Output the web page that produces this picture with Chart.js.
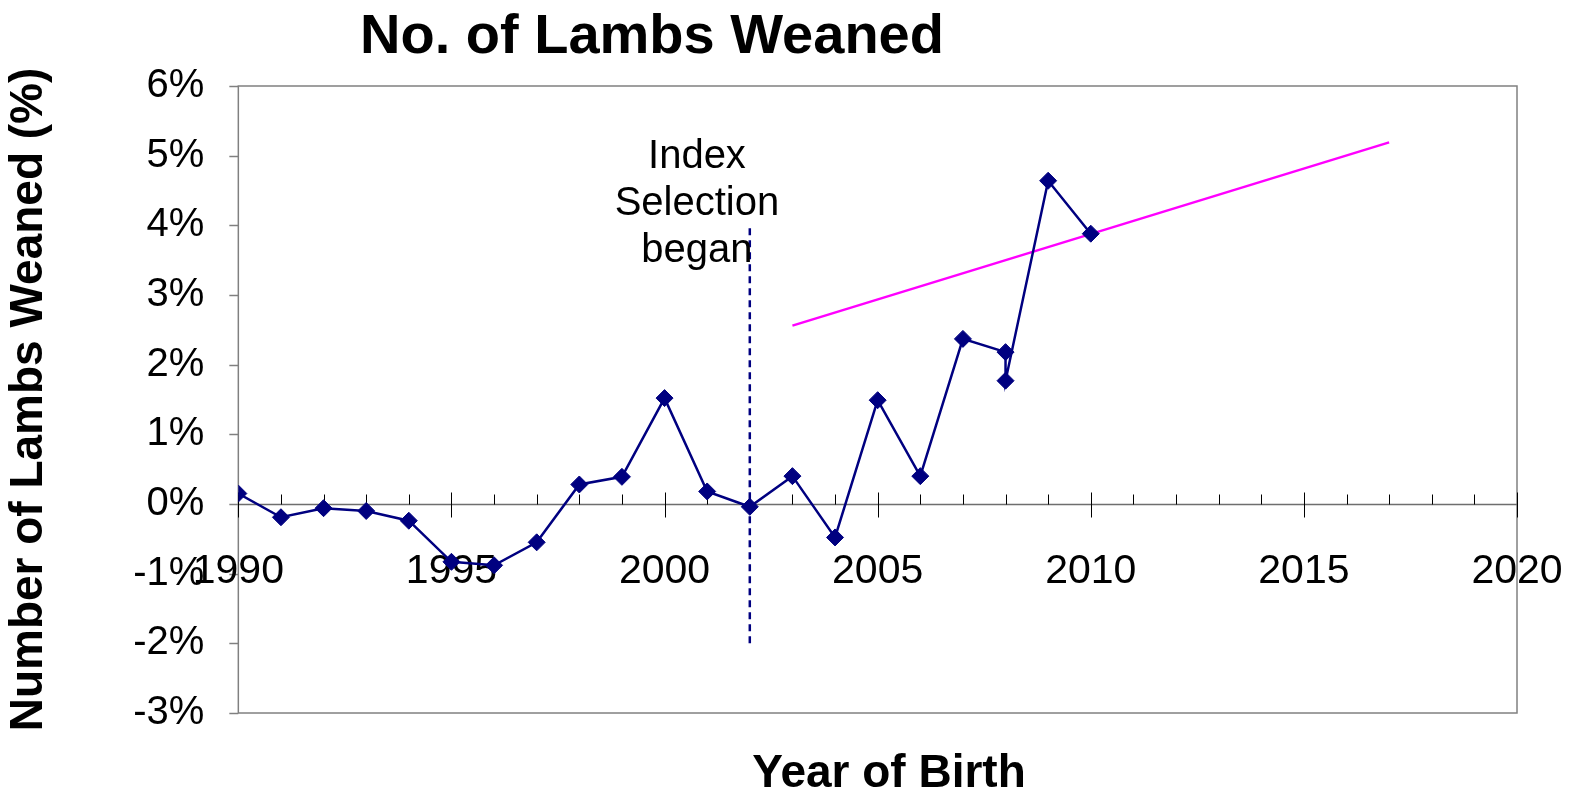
<!DOCTYPE html>
<html>
<head>
<meta charset="utf-8">
<title>No. of Lambs Weaned</title>
<script src="https://cdn.jsdelivr.net/npm/chart.js@4.4.1/dist/chart.umd.min.js"></script>
<style>
    html, body { margin: 0; padding: 0; background: #fff; }
    #wrap { width: 1571px; height: 794px; position: relative; }
</style>
</head>
<body>
<div id="wrap"><canvas id="lambChart"></canvas></div>
<script>
// data
const years = [1990, 1991, 1992, 1993, 1994, 1995, 1996, 1997, 1998, 1999, 2000, 2001, 2002,
               2003, 2004, 2005, 2006, 2007, 2008, 2008, 2009, 2010];
const weaned = [0.15, -0.19, -0.06, -0.10, -0.24, -0.83, -0.88, -0.55, 0.28, 0.39, 1.52, 0.18, -0.04,
                0.40, -0.48, 1.49, 0.40, 2.37, 2.18, 1.77, 4.64, 3.88];

// trend line (pink)
const trendYears = [2003, 2017];
const trendValues = [2.56, 5.19];

// "index selection began" marker
const markerYears = [2002, 2002];
const markerValues = [-2, 4];

// tick labels
const xTickLabels = [1990, 1995, 2000, 2005, 2010, 2015, 2020];
const yMin = -3, yMax = 6;
const xMin = 1990, xMax = 2020;

const FONT = "'Liberation Sans', Arial, sans-serif";
const AXIS_GREY = '#808080';
const NAVY = '#000080';

function toPoints(xs, ys) {
    return xs.map((x, i) => ({ x: x, y: ys[i] }));
}

// frame, zero axis line, tick marks and x labels
const framePlugin = {
    id: 'frame',
    beforeDatasetsDraw(chart) {
        const { ctx, chartArea: a, scales: { x, y } } = chart;
        ctx.save();
        ctx.strokeStyle = AXIS_GREY;
        ctx.lineWidth = 1.5;
        ctx.strokeRect(a.left, a.top, a.right - a.left, a.bottom - a.top);

        // y tick marks, outside left
        for (let v = yMin; v <= yMax; v++) {
            const py = Math.round(y.getPixelForValue(v)) + 0.5;
            ctx.beginPath();
            ctx.moveTo(a.left - 9, py);
            ctx.lineTo(a.left, py);
            ctx.stroke();
        }

        // x axis at 0
        const y0 = Math.round(y.getPixelForValue(0)) + 0.5;
        ctx.strokeStyle = '#6e6e6e';
        ctx.beginPath();
        ctx.moveTo(a.left, y0);
        ctx.lineTo(a.right, y0);
        ctx.stroke();
        ctx.strokeStyle = '#000';
        ctx.lineWidth = 1;
        for (let yr = xMin; yr <= xMax; yr++) {
            const px = Math.round(x.getPixelForValue(yr)) + 0.5;
            ctx.beginPath();
            if (yr % 5 === 0) {
                ctx.moveTo(px, y0 - 12);
                ctx.lineTo(px, y0 + 13);
            } else {
                ctx.moveTo(px, y0 - 10);
                ctx.lineTo(px, y0);
            }
            ctx.stroke();
        }

        // x labels below the zero line
        ctx.fillStyle = '#000';
        ctx.font = '41px ' + FONT;
        ctx.textAlign = 'center';
        ctx.textBaseline = 'alphabetic';
        xTickLabels.forEach(v => ctx.fillText(String(v), x.getPixelForValue(v), y0 + 78));
        ctx.restore();
    },
    afterDraw(chart) {
        const { ctx, scales: { x } } = chart;
        ctx.save();
        ctx.fillStyle = '#000';
        ctx.textAlign = 'center';
        ctx.textBaseline = 'alphabetic';

        ctx.font = 'bold 56px ' + FONT;
        ctx.fillText('No. of Lambs Weaned', 652, 53);

        ctx.font = 'bold 46px ' + FONT;
        ctx.fillText('Year of Birth', 889, 787);

        // annotation
        ctx.font = '40px ' + FONT;
        const ax = x.getPixelForValue(2000.76);
        const lines = ['Index', 'Selection', 'began'];
        lines.forEach((t, i) => ctx.fillText(t, ax, 168 + i * 47));
        ctx.restore();
    }
};

new Chart(document.getElementById('lambChart'), {
    type: 'line',
    data: {
        datasets: [{
            label: 'Lambs weaned',
            data: toPoints(years, weaned),
            borderColor: NAVY,
            backgroundColor: NAVY,
            borderWidth: 2.5,
            pointStyle: 'rectRot',
            pointRadius: 8.5,
            pointHoverRadius: 8.5,
            pointBorderWidth: 1,
            tension: 0,
            order: 1
        }, {
            label: 'Trend',
            data: toPoints(trendYears, trendValues),
            borderColor: '#ff00ff',
            borderWidth: 2.5,
            pointRadius: 0,
            order: 2
        }, {
            label: 'Index selection began',
            data: toPoints(markerYears, markerValues),
            borderColor: NAVY,
            borderWidth: 2.5,
            borderDash: [7, 5],
            pointRadius: 0,
            order: 3
        }]
    },
    options: {
        responsive: true,
        maintainAspectRatio: false,
        animation: false,
        layout: { padding: { top: 86, right: 54, bottom: 81, left: 0 } },
        plugins: {
            legend: { display: false },
            tooltip: { enabled: false },
            title: { display: false }
        },
        scales: {
            x: {
                type: 'linear',
                position: { y: 0 },
                min: xMin,
                max: xMax,
                grid: { display: false, drawTicks: false },
                border: { display: false },
                ticks: { display: false }
            },
            y: {
                min: yMin,
                max: yMax,
                grid: { display: false, drawTicks: false },
                border: { display: false },
                ticks: {
                    stepSize: 1,
                    padding: 34,
                    color: '#000',
                    font: { family: FONT, size: 40 },
                    callback: v => v + '%'
                },
                title: {
                    display: true,
                    text: 'Number of Lambs Weaned (%)',
                    color: '#000',
                    font: { family: FONT, size: 46, weight: 'bold' },
                    padding: { top: 2, bottom: 42 }
                }
            }
        }
    },
    plugins: [framePlugin]
});
</script>
</body>
</html>
